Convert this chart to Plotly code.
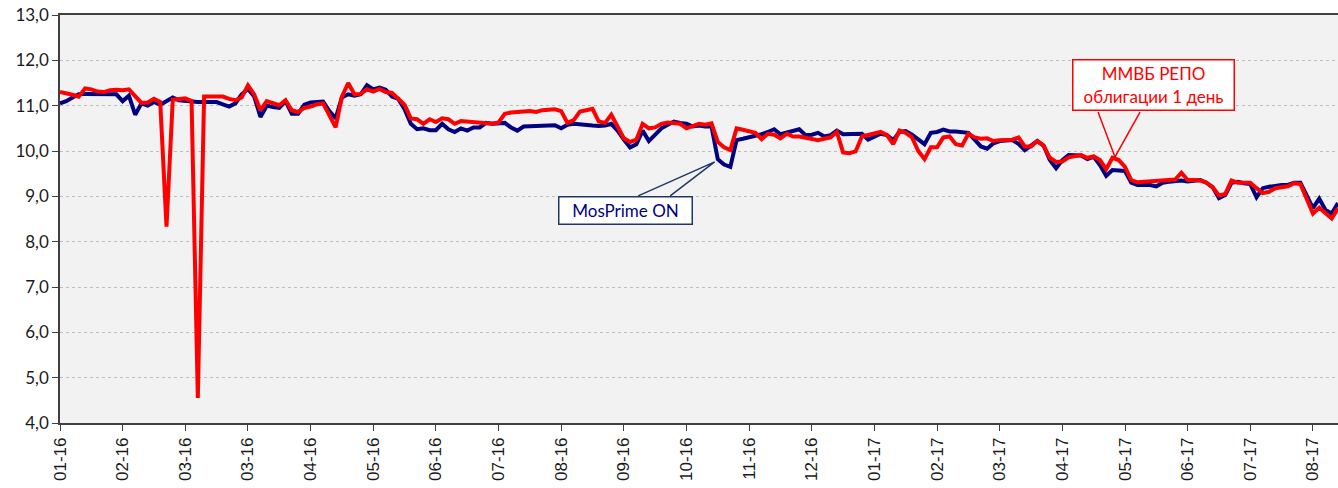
import plotly.graph_objects as go

# Tick labels (every 10th observation on a category-like axis)
tick_labels = ["01-16", "02-16", "03-16", "03-16", "04-16", "05-16", "06-16", "07-16",
               "08-16", "09-16", "10-16", "11-16", "12-16", "01-17", "02-17", "03-17",
               "04-17", "05-17", "06-17", "07-17", "08-17"]

mosprime_on = [
    11.05, 11.1, 11.18, 11.25, 11.26, 11.26, 11.26, 11.26, 11.27, 11.25,
    11.1, 11.22, 10.8, 11.05, 11.0, 11.08, 11.02, 11.1, 11.18, 11.12,
    11.1, 11.1, 11.08, 11.08, 11.08, 11.08, 11.03, 10.98, 11.05, 11.25,
    11.37, 11.2, 10.75, 11.0, 10.97, 10.95, 11.1, 10.82, 10.82, 11.02,
    11.07, 11.08, 11.09, 10.88, 10.72, 11.18, 11.25, 11.22, 11.25, 11.45,
    11.36, 11.4, 11.35, 11.2, 11.15, 10.92, 10.6, 10.48, 10.5, 10.46,
    10.46, 10.6, 10.48, 10.42, 10.5, 10.45, 10.52, 10.52, 10.62, 10.6,
    10.62, 10.62, 10.52, 10.45, 10.54, 10.55, 10.55, 10.55, 10.56, 10.57,
    10.5, 10.58, 10.6, 10.58, 10.57, 10.56, 10.55, 10.56, 10.6, 10.45,
    10.25, 10.08, 10.15, 10.45, 10.22, 10.35, 10.5, 10.58, 10.65, 10.62,
    10.6, 10.54, 10.56, 10.54, 10.54, 9.82, 9.7, 9.65, 10.24, 10.27,
    10.3, 10.35, 10.37, 10.42, 10.48, 10.37, 10.4, 10.45, 10.48, 10.35,
    10.36, 10.4, 10.32, 10.35, 10.45, 10.37, 10.37, 10.37, 10.38, 10.25,
    10.32, 10.38, 10.35, 10.24, 10.42, 10.44, 10.36, 10.26, 10.15, 10.4,
    10.42, 10.47, 10.43, 10.43, 10.42, 10.4, 10.25, 10.1, 10.05, 10.17,
    10.22, 10.24, 10.24, 10.16, 10.02, 10.12, 10.22, 10.12, 9.8, 9.62,
    9.8, 9.91, 9.9, 9.9, 9.82, 9.87, 9.69, 9.45, 9.58, 9.58,
    9.56, 9.3, 9.25, 9.25, 9.25, 9.22, 9.3, 9.32, 9.33, 9.35,
    9.33, 9.34, 9.36, 9.3, 9.2, 8.96, 9.03, 9.3, 9.32, 9.29,
    9.27, 8.98, 9.18, 9.21, 9.24, 9.25, 9.25, 9.3, 9.3, 9.0,
    8.74, 8.95, 8.7, 8.62, 8.85,
]

mmvb_repo = [
    11.3, 11.28, 11.24, 11.2, 11.38, 11.36, 11.31, 11.3, 11.34, 11.35,
    11.34, 11.36, 11.2, 11.06, 11.07, 11.15, 11.08, 8.33, 11.13, 11.15,
    11.16, 11.1, 4.55, 11.2, 11.2, 11.2, 11.2, 11.15, 11.12, 11.18,
    11.45, 11.25, 10.9, 11.1, 11.05, 11.01, 11.12, 10.9, 10.86, 10.95,
    10.98, 11.03, 11.05, 10.8, 10.52, 11.2, 11.5, 11.25, 11.26, 11.36,
    11.31, 11.37, 11.3, 11.28, 11.15, 11.02, 10.72, 10.7, 10.6, 10.7,
    10.64, 10.72, 10.7, 10.6, 10.66, 10.65, 10.64, 10.61, 10.6, 10.6,
    10.63, 10.82, 10.85, 10.87, 10.87, 10.88, 10.86, 10.9, 10.9, 10.92,
    10.88, 10.62, 10.68, 10.87, 10.9, 10.93, 10.65, 10.62, 10.8, 10.55,
    10.28, 10.2, 10.25, 10.6, 10.5, 10.52, 10.6, 10.63, 10.62, 10.6,
    10.5, 10.54, 10.6, 10.58, 10.61, 10.2, 10.08, 10.02, 10.5, 10.47,
    10.43, 10.4, 10.26, 10.38, 10.36, 10.28, 10.38, 10.32, 10.32, 10.3,
    10.28, 10.24, 10.27, 10.3, 10.42, 9.97, 9.95, 9.99, 10.32, 10.35,
    10.37, 10.42, 10.35, 10.15, 10.45, 10.4, 10.3, 10.0, 9.82, 10.08,
    10.08, 10.3, 10.32, 10.15, 10.12, 10.38, 10.3, 10.27, 10.28, 10.22,
    10.24, 10.25, 10.25, 10.3, 10.1, 10.1, 10.22, 10.12, 9.85, 9.76,
    9.77, 9.86, 9.88, 9.91, 9.85, 9.88, 9.8, 9.6, 9.85, 9.8,
    9.65, 9.36, 9.31, 9.32, 9.33, 9.34, 9.36, 9.36, 9.37, 9.52,
    9.36, 9.36, 9.35, 9.3, 9.2, 9.02, 9.05, 9.35, 9.3, 9.3,
    9.3, 9.18, 9.07, 9.1, 9.18, 9.2, 9.22, 9.29, 9.27, 8.95,
    8.62, 8.75, 8.62, 8.51, 8.74,
]

day_index = list(range(len(mosprime_on)))
tick_positions = list(range(0, 10 * len(tick_labels), 10))

NAVY = "#000080"
RED = "#FF0000"

fig = go.Figure()
fig.add_trace(go.Scatter(x=day_index, y=mosprime_on, mode="lines", name="MosPrime ON",
                         line=dict(color=NAVY, width=4)))
fig.add_trace(go.Scatter(x=day_index, y=mmvb_repo, mode="lines",
                         name="ММВБ РЕПО облигации 1 день",
                         line=dict(color=RED, width=4)))

# Callout wedges
fig.add_shape(type="path", xref="x", yref="y",
              path="M 92.3 9.01 L 104.5 9.76 L 97.4 9.01",
              line=dict(color="#1F3864", width=1.5), layer="above")
fig.add_shape(type="path", xref="x", yref="y",
              path="M 165.7 10.86 L 168.4 9.87 L 172.4 10.86",
              line=dict(color=RED, width=1.5), layer="above")

fig.add_annotation(x=90.3, y=8.68, xref="x", yref="y", text="MosPrime ON",
                   showarrow=False, font=dict(family="Lato", size=17, color=NAVY),
                   bgcolor="white", bordercolor="#1F3864", borderwidth=1.5,
                   width=128, height=22, borderpad=2)
fig.add_annotation(x=174.6, y=11.45, xref="x", yref="y",
                   text="ММВБ РЕПО<br>облигации 1 день",
                   showarrow=False, font=dict(family="Lato", size=17, color=RED),
                   bgcolor="white", bordercolor=RED, borderwidth=1.5,
                   width=156, height=45, borderpad=2)

fig.update_layout(
    width=1338, height=488,
    margin=dict(l=60, r=0, t=15, b=65, autoexpand=False),
    plot_bgcolor="#F2F2F2", paper_bgcolor="white",
    showlegend=False,
    separators=", ",
    xaxis=dict(
        range=[0, 204], tickmode="array", tickvals=tick_positions, ticktext=tick_labels,
        tickangle=-90, ticks="outside", ticklen=6, tickcolor="#404040",
        showgrid=False, zeroline=False, showline=True, linecolor="#404040",
        linewidth=1.5, mirror=True, automargin=False, ticklabeloverflow="allow",
        tickfont=dict(family="Liberation Sans", size=17, color="#1a1a1a"),
    ),
    yaxis=dict(
        range=[4, 13], dtick=1, tickformat=".1f", ticks="outside", ticklen=6,
        tickcolor="#404040", showgrid=True, gridcolor="#BDBDBD", griddash="dot",
        gridwidth=1, zeroline=False, showline=True, linecolor="#404040",
        linewidth=1.5, mirror=True, automargin=False, ticklabeloverflow="allow",
        tickfont=dict(family="Lato", size=17, color="#1a1a1a"),
    ),
)

# Remove the default 8px body margin so the figure fills the window exactly
fig.write_html("out.html", config={"displayModeBar": False},
               post_script="document.body.style.margin='0px';document.body.style.overflow='hidden';")
